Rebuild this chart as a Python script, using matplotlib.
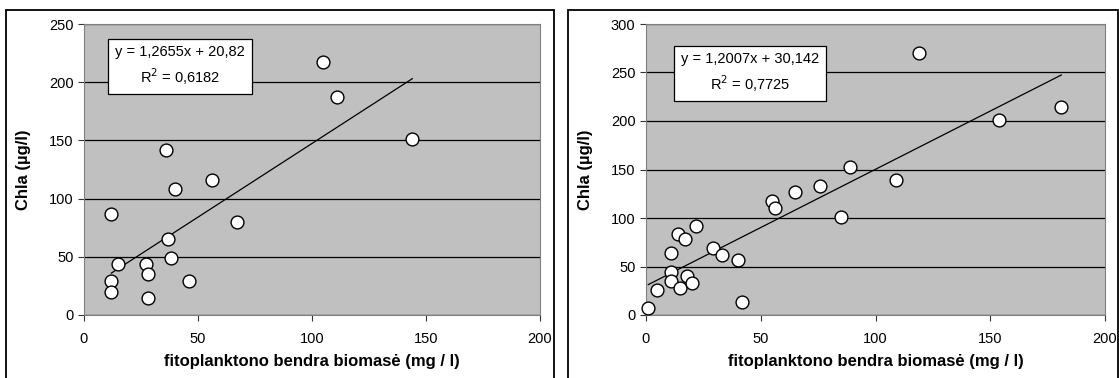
import matplotlib.pyplot as plt
from matplotlib.patches import Rectangle

plt.rcParams['font.family'] = ['Liberation Sans', 'DejaVu Sans']

# left panel data
left_x = [105, 111, 144, 36, 56, 40, 12, 67, 37, 38, 15, 27, 28, 12, 46, 12, 28]
left_y = [217, 187, 151, 142, 116, 108, 87, 80, 65, 49, 44, 44, 35, 29, 29, 20, 15]
left_slope, left_icpt = 1.2655, 20.82
left_eq = ["y = 1,2655x + 20,82", "R$^2$ = 0,6182"]
left_yticks = [0, 50, 100, 150, 200, 250]

# right panel data
right_x = [1, 5, 11, 11, 11, 14, 15, 17, 18, 20, 22, 29, 33, 40, 42,
           55, 56, 65, 76, 85, 89, 109, 119, 154, 181]
right_y = [7, 26, 64, 44, 35, 83, 28, 78, 40, 33, 92, 69, 62, 57, 13,
           118, 110, 127, 133, 101, 153, 139, 270, 201, 214]
right_slope, right_icpt = 1.2007, 30.142
right_eq = ["y = 1,2007x + 30,142", "R$^2$ = 0,7725"]
right_yticks = [0, 50, 100, 150, 200, 250, 300]

xticks = [0, 50, 100, 150, 200]
xlabel = "fitoplanktono bendra biomasė (mg / l)"
ylabel = "Chla (µg/l)"

W, H = 1119, 378
fig = plt.figure(figsize=(W / 100, H / 100), dpi=100)

# panel frames
for x0, x1 in [(6, 554), (568, 1118)]:
    fig.patches.append(Rectangle((x0 / W, -0.05), (x1 - x0) / W, 1 - 10 / H + 0.05,
                                 transform=fig.transFigure, fill=False,
                                 edgecolor='black', linewidth=1.3))


def draw(ax, xs, ys, slope, icpt, eq, yticks, box_x, box_y):
    ax.set_facecolor('#c0c0c0')
    ax.set_xlim(0, 200)
    ax.set_ylim(0, yticks[-1])
    ax.set_xticks(xticks)
    ax.set_yticks(yticks)
    ax.yaxis.grid(True, color='black', linewidth=0.9)
    ax.set_axisbelow(True)
    for s in ['top', 'right', 'left', 'bottom']:
        ax.spines[s].set_color('#808080')
    ax.tick_params(direction='out', length=4, labelsize=10.5, color='#333333')
    ax.tick_params(axis='x', pad=8)
    x0, x1 = min(xs), max(xs)
    ax.plot([x0, x1], [slope * x0 + icpt, slope * x1 + icpt], color='black', linewidth=0.9)
    ax.scatter(xs, ys, s=85, facecolor='white', edgecolor='black', linewidth=1, zorder=3,
               clip_on=False)
    ax.set_xlabel(xlabel, fontsize=12, fontweight='bold', labelpad=6)
    ax.set_ylabel(ylabel, fontsize=12, fontweight='bold', labelpad=13)
    ax.text(box_x, box_y, eq[0] + "\n" + eq[1], transform=ax.transAxes,
            ha='center', va='center', fontsize=10.5, linespacing=1.45,
            bbox=dict(boxstyle='square,pad=0.5', facecolor='white', edgecolor='black',
                      linewidth=0.9))


axl = fig.add_axes([84 / W, 1 - 315 / H, (540 - 84) / W, (315 - 24) / H])
draw(axl, left_x, left_y, left_slope, left_icpt, left_eq, left_yticks,
     (180 - 84) / (540 - 84), (315 - 66) / (315 - 24))

axr = fig.add_axes([646 / W, 1 - 315 / H, (1105 - 646) / W, (315 - 24) / H])
draw(axr, right_x, right_y, right_slope, right_icpt, right_eq, right_yticks,
     (750 - 646) / (1105 - 646), (315 - 73) / (315 - 24))

fig.savefig("out.png", dpi=100)
